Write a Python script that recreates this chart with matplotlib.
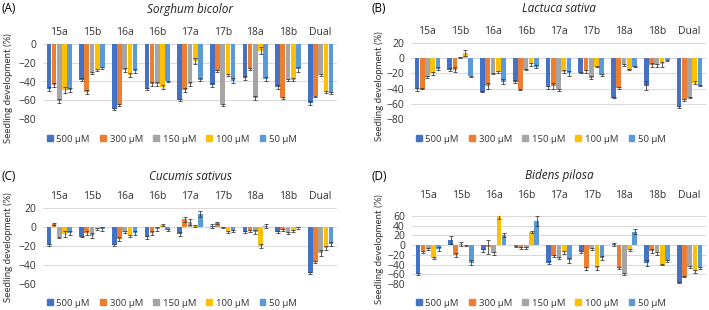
import numpy as np
import matplotlib
matplotlib.use("Agg")
import matplotlib.pyplot as plt
from matplotlib.patches import Patch

plt.rcParams['font.family'] = ['Open Sans', 'DejaVu Sans']

categories = ['15a', '15b', '16a', '16b', '17a', '17b', '18a', '18b', 'Dual']
doses = ['500 µM', '300 µM', '150 µM', '100 µM', '50 µM']
colours = ['#4472C4', '#ED7D31', '#A5A5A5', '#FFC000', '#5B9BD5']

# rows = compounds, columns = doses (500, 300, 150, 100, 50 uM)
sorghum = [[-48, -44, -61, -49, -49],
           [-38, -51, -31, -28, -26],
           [-69, -65, -28, -33, -29],
           [-48, -43, -43, -46, -40],
           [-60, -49, -43, -18, -38],
           [-44, -29, -65, -33, -39],
           [-36, -27, -58, -7, -37],
           [-46, -58, -38, -38, -27],
           [-63, -56, -33, -51, -52]]
sorghum_err = [[2, 2, 2, 3, 2],
               [2, 2, 1, 1, 1],
               [1, 1, 2, 2, 2],
               [1, 2, 2, 2, 1],
               [1, 2, 2, 3, 2],
               [2, 1, 1, 1, 3],
               [2, 1, 2, 4, 2],
               [2, 1, 1, 2, 3],
               [2, 1, 1, 1, 1]]

lactuca = [[-41, -40, -25, -20, -14],
           [-15, -15, 1, 7, -24],
           [-44, -36, -20, -18, -31],
           [-31, -41, -15, -8, -11],
           [-38, -36, -42, -18, -20],
           [-19, -17, -26, -11, -22],
           [-52, -39, -9, -15, -11],
           [-36, -9, -9, -8, -3],
           [-64, -55, -52, -32, -36]]
lactuca_err = [[2, 1, 1, 2, 2],
               [2, 3, 1, 4, 1],
               [1, 4, 1, 1, 3],
               [2, 1, 1, 2, 2],
               [2, 4, 1, 2, 3],
               [1, 2, 2, 1, 1],
               [1, 1, 1, 1, 1],
               [6, 3, 2, 3, 1],
               [1, 1, 1, 2, 1]]

cucumis = [[-19, 3, -11, -7, -6],
           [-10, -6, -9, -2, -2],
           [-19, -13, -5, -9, -6],
           [-11, -6, -2, 2, -3],
           [-7, 8, 5, 1, 14],
           [1, 4, -1, -5, -4],
           [-5, -4, -5, -20, 1],
           [-5, -3, -6, -4, -1],
           [-48, -37, -27, -22, -18]]
cucumis_err = [[1, 1, 1, 3, 2],
               [1, 2, 3, 1, 2],
               [1, 2, 1, 1, 2],
               [2, 2, 2, 1, 1],
               [2, 3, 3, 1, 3],
               [2, 1, 0.5, 1, 1],
               [1, 1, 2, 2, 2],
               [1, 1, 1, 1, 1],
               [1, 1, 3, 2, 2]]

bidens = [[-60, -14, -8, -27, -8],
          [11, -21, 2, 0, -36],
          [-11, -4, -17, 61, 20],
          [-2, -5, -5, 28, 50],
          [-36, -23, -27, -15, -31],
          [-14, -48, -8, -47, -27],
          [2, -47, -60, -10, 28],
          [-37, -12, -17, -40, -32],
          [-77, -65, -45, -54, -47]]
bidens_err = [[2, 2, 3, 2, 5],
              [8, 4, 4, 1, 5],
              [3, 14, 3, 7, 4],
              [1, 2, 2, 2, 10],
              [3, 2, 2, 3, 5],
              [2, 3, 3, 4, 4],
              [3, 3, 2, 2, 6],
              [6, 5, 3, 1, 2],
              [1, 1, 3, 3, 2]]

W, H = 709, 310
fig = plt.figure(figsize=(W / 100, H / 100), dpi=100)

def px_axes(x0, y_top, x1, y_bot):
    return fig.add_axes([x0 / W, 1 - y_bot / H, (x1 - x0) / W, (y_bot - y_top) / H])

def panel(ax, data, err, ymin, ymax, pad):
    data = np.array(data, dtype=float)
    err = np.array(err, dtype=float)
    x = np.arange(len(categories))
    bw = 0.145
    for j in range(len(doses)):
        ax.bar(x + (j - 2) * 0.16, data[:, j], bw, color=colours[j], zorder=3,
               yerr=err[:, j], error_kw=dict(ecolor='#404040', elinewidth=0.6,
                                             capsize=1.6, capthick=0.6))
    ax.set_xlim(-0.5, len(categories) - 0.5)
    ax.set_ylim(ymin, ymax)
    ax.set_yticks(np.arange(ymin, ymax + 1, 20))
    ax.set_xticks(x)
    ax.set_xticklabels(categories)
    ax.xaxis.tick_top()
    ax.tick_params(axis='x', length=0, pad=pad, labelsize=7.5, colors='#333333')
    ax.tick_params(axis='y', length=0, pad=5, labelsize=7.5, colors='#333333')
    ax.grid(axis='y', color='#d9d9d9', lw=0.7, zorder=0)
    for s in ax.spines.values():
        s.set_visible(False)

axA = px_axes(43, 44, 337, 119)
panel(axA, sorghum, sorghum_err, -80, 0, 4.5)
axB = px_axes(411, 43, 706, 119)
panel(axB, lactuca, lactuca_err, -80, 20, 4.5)
axC = px_axes(43, 208, 337, 284)
panel(axC, cucumis, cucumis_err, -60, 20, 4.5)
axD = px_axes(412, 216, 706, 284)
panel(axD, bidens, bidens_err, -80, 60, 10.5)

handles = [Patch(color=c) for c in colours]
for lx, ly in [(172, 139), (541, 139), (172, 303), (541, 303)]:
    fig.legend(handles, doses, loc='center', bbox_to_anchor=(lx / W, 1 - ly / H),
               ncol=5, frameon=False, fontsize=6.8, handlelength=0.6,
               handleheight=0.6, handletextpad=0.4, columnspacing=1.1,
               labelcolor='#333333', borderpad=0.1)

titles = [('Sorghum bicolor', 190, 9), ('Lactuca sativa', 559, 9),
          ('Cucumis sativus', 190, 176), ('Bidens pilosa', 559, 176)]
for t, tx, ty in titles:
    fig.text(tx / W, 1 - ty / H, t, style='italic', fontsize=8.5, ha='center',
             va='center', color='#222222')

for lab, lx, ly in [('(A)', 2, 9), ('(B)', 371, 9), ('(C)', 2, 176), ('(D)', 371, 176)]:
    fig.text(lx / W, 1 - ly / H, lab, fontsize=8.5, ha='left', va='center')

for lx, ly in [(8, 88), (379, 86), (8, 247), (379, 249)]:
    fig.text(lx / W, 1 - ly / H, 'Seedling development (%)', rotation=90,
             fontsize=7, family=['Lato', 'DejaVu Sans'], ha='center',
             va='center', color='#333333')

fig.savefig('out.png', dpi=100)
